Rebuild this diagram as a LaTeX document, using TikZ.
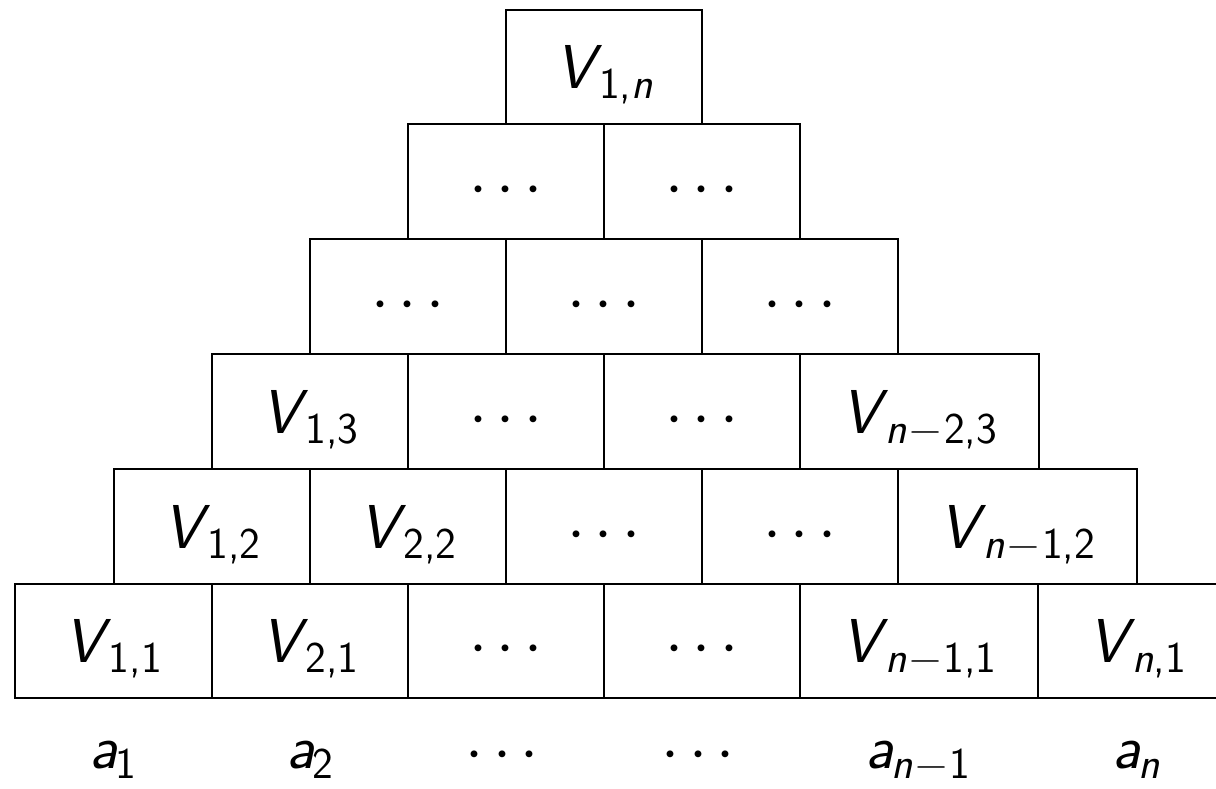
\documentclass[tikz,border=0pt]{standalone}
\newcommand\sub[1]{\kern-1.5pt\raisebox{-5pt}{\fontsize{22}{26}\selectfont #1}}
\newcommand\mi[1]{\textsl{#1}}
\newcommand\mminus{\kern1.2pt\char"2212\relax\kern1.2pt}
\newcommand\onedot{\makebox[13.75pt][c]{\raisebox{-1pt}{\scalebox{1.3}{$\cdot$}}}}
\newcommand\mdots{\onedot\onedot\onedot}
\newcommand\mycell[6]{\node[cell, minimum width={(#3-#2)*0.5pt}, minimum height={(#5-#4)*0.5pt}, anchor=north west] (#1) at (#2,#4) {#6};}
\begin{document}
\begin{tikzpicture}[x=0.5pt,y=-0.5pt,
  font=\fontsize{31}{37}\selectfont\sffamily,
  cell/.style={draw, line width=0.85pt, inner sep=0pt, rectangle, text height=28pt, text depth=6pt},
  lab/.style={anchor=base, inner sep=0pt}]
\useasboundingbox (0,0) rectangle (1216,788);
% row 1
\mycell{c11}{14}{211}{583}{697}{\mi{V}\sub{1,1}}
\mycell{c21}{211}{407}{583}{697}{\mi{V}\sub{2,1}}
\mycell{c31}{407}{603}{583}{697}{\mdots}
\mycell{c41}{603}{799}{583}{697}{\mdots}
\mycell{c51}{799}{1037}{583}{697}{\mi{V}\sub{\mi{n}\mminus1,1}}
\begin{scope}
\clip (0,0) rectangle (1216,788);
\mycell{c61}{1037}{1236}{583}{697}{\mi{V}\sub{\mi{n},1}}
\end{scope}
% row 2
\mycell{c12}{113}{309}{468}{583}{\mi{V}\sub{1,2}}
\mycell{c22}{309}{505}{468}{583}{\mi{V}\sub{2,2}}
\mycell{c32}{505}{701}{468}{583}{\mdots}
\mycell{c42}{701}{897}{468}{583}{\mdots}
\mycell{c52}{897}{1136}{468}{583}{\mi{V}\sub{\mi{n}\mminus1,2}}
% row 3
\mycell{c13}{211}{407}{353}{468}{\mi{V}\sub{1,3}}
\mycell{c23}{407}{603}{353}{468}{\mdots}
\mycell{c33}{603}{799}{353}{468}{\mdots}
\mycell{c43}{799}{1038}{353}{468}{\mi{V}\sub{\mi{n}\mminus2,3}}
% row 4
\mycell{c14}{309}{505}{238}{353}{\mdots}
\mycell{c24}{505}{701}{238}{353}{\mdots}
\mycell{c34}{701}{897}{238}{353}{\mdots}
% row 5
\mycell{c15}{407}{603}{123}{238}{\mdots}
\mycell{c25}{603}{799}{123}{238}{\mdots}
% row 6
\mycell{c16}{505}{701}{9}{123}{\mi{V}\sub{1,\mi{n}}}
% labels
\node[lab] (a1) at (113,768) {\mi{a}\sub{1}};
\node[lab] (a2) at (310,768) {\mi{a}\sub{2}};
\node[lab] (a3) at (502,768) {\mdots};
\node[lab] (a4) at (698,768) {\mdots};
\node[lab] (a5) at (918,768) {\mi{a}\sub{\mi{n}\mminus1}};
\node[lab] (a6) at (1136,768) {\mi{a}\sub{\mi{n}}};
\end{tikzpicture}
\end{document}
